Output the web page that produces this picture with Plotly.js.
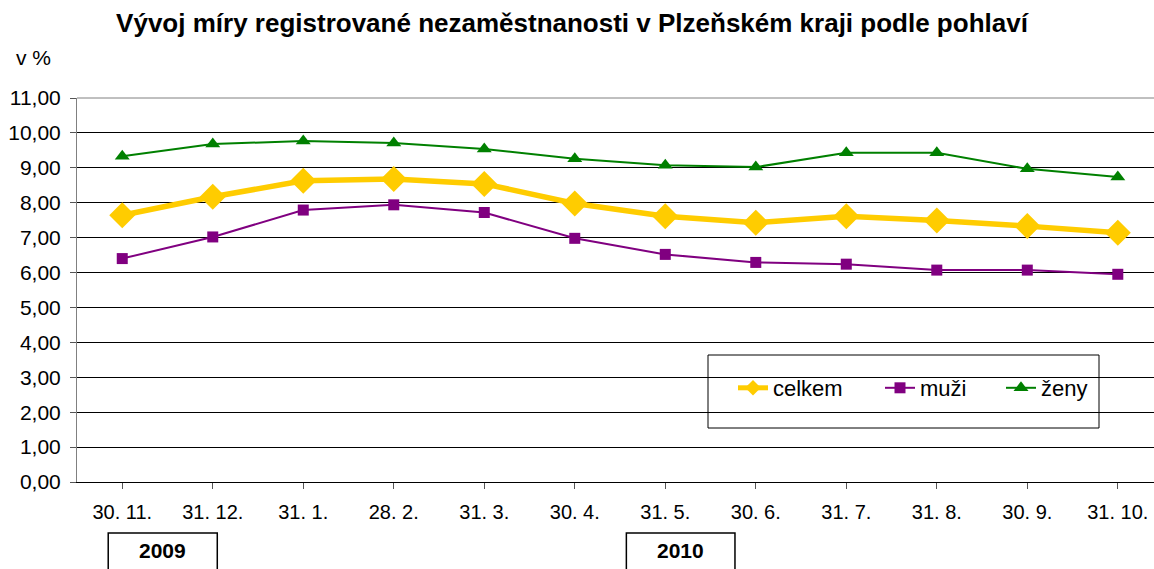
<!DOCTYPE html>
<html><head><meta charset="utf-8">
<script src="https://cdn.plot.ly/plotly-3.0.1.min.js"></script>
<style>body{margin:0;background:#fff}#c{width:1154px;height:569px}</style>
</head><body><div id="c"></div>
<script>
const categories = ["30. 11.","31. 12.","31. 1.","28. 2.","31. 3.","30. 4.","31. 5.","30. 6.","31. 7.","31. 8.","30. 9.","31. 10."];
const celkem = [7.64, 8.17, 8.63, 8.68, 8.54, 7.98, 7.61, 7.43, 7.61, 7.49, 7.33, 7.14];
const muzi   = [6.40, 7.02, 7.79, 7.94, 7.72, 6.98, 6.52, 6.29, 6.24, 6.07, 6.07, 5.95];
const zeny   = [9.33, 9.68, 9.77, 9.71, 9.54, 9.26, 9.07, 9.02, 9.43, 9.43, 8.97, 8.74];
const yTickVals = [0,1,2,3,4,5,6,7,8,9,10,11];
const yTickText = ["0,00","1,00","2,00","3,00","4,00","5,00","6,00","7,00","8,00","9,00","10,00","11,00"];
const seriesNames = ["celkem","muži","ženy"];
const years = ["2009","2010"];

const xIdx = categories.map((_, i) => i);
const F = "Liberation Sans, Arial, sans-serif";

const traces = [
  {x: xIdx, y: celkem, name: seriesNames[0], mode: "lines+markers", legend: "legend",
   line: {color: "#FFCC00", width: 5.5}, marker: {symbol: "diamond", size: 20, color: "#FFCC00"}},
  {x: xIdx, y: muzi, name: seriesNames[1], mode: "lines+markers", legend: "legend2",
   line: {color: "#800080", width: 2}, marker: {symbol: "square", size: 11, color: "#800080"}},
  {x: xIdx, y: zeny, name: seriesNames[2], mode: "lines+markers", legend: "legend3",
   line: {color: "#008000", width: 2}, marker: {symbol: "triangle-up", size: 13, color: "#008000"}}
];

const W = 1154 - 77, H = 384;
const px = v => (v - 77) / W;
const py = v => (482 - v) / H;
const legBase = {orientation: "h", yanchor: "middle", xanchor: "left", bgcolor: "rgba(0,0,0,0)",
  borderwidth: 0, font: {family: F, size: 22, color: "#000"}, itemwidth: 30};

const layout = {
  width: 1154, height: 569,
  margin: {l: 77, r: 0, t: 98, b: 87},
  paper_bgcolor: "#fff", plot_bgcolor: "#fff",
  font: {family: F, color: "#000"},
  title: {text: "<b>Vývoj míry registrované nezaměstnanosti v Plzeňském kraji podle pohlaví</b>",
    font: {family: F, size: 26, color: "#000"}, x: px(572), xanchor: "center", y: 1 - 23/569, yanchor: "middle", xref: "paper"},
  xaxis: {range: [-0.5, 11.4], tickvals: xIdx, ticktext: categories, tickson: "boundaries",
    ticks: "outside", ticklen: 6, tickcolor: "#555", showgrid: false, zeroline: false,
    showline: true, linecolor: "#000", linewidth: 1, tickfont: {family: F, size: 20, color: "#000"},
    ticklabelstandoff: 6, fixedrange: true},
  yaxis: {range: [0, 11], tickvals: yTickVals, ticktext: yTickText, ticks: "outside", ticklen: 6,
    tickcolor: "#555", showgrid: true, gridcolor: "#000", gridwidth: 1, zeroline: false,
    showline: true, linecolor: "#808080", linewidth: 1, tickfont: {family: F, size: 21, color: "#000"},
    ticklabelstandoff: 5, fixedrange: true},
  legend: Object.assign({}, legBase, {x: px(733), y: py(388), itemsizing: "constant"}),
  legend2: Object.assign({}, legBase, {x: px(880), y: py(388)}),
  legend3: Object.assign({}, legBase, {x: px(1001), y: py(388)}),
  shapes: [
    {type: "rect", xref: "paper", yref: "paper", x0: px(708), x1: px(1099), y0: py(428), y1: py(355),
     line: {color: "#000", width: 1}, fillcolor: "#fff", layer: "below"},
    {type: "line", xref: "paper", yref: "paper", x0: 0, x1: 1, y0: 1, y1: 1,
     line: {color: "#808080", width: 1}},
    {type: "rect", xref: "x", yref: "paper", x0: -0.155, x1: 1.05, y0: py(533), y1: py(575),
     line: {color: "#000", width: 1.5}},
    {type: "rect", xref: "x", yref: "paper", x0: 5.57, x1: 6.77, y0: py(533), y1: py(575),
     line: {color: "#000", width: 1.5}}
  ],
  annotations: [
    {text: "v %", xref: "paper", yref: "paper", x: px(33), y: py(57), xanchor: "center", yanchor: "middle",
     showarrow: false, font: {family: F, size: 21, color: "#000"}},
    {text: "<b>" + years[0] + "</b>", xref: "x", yref: "paper", x: 0.45, y: py(550), xanchor: "center", yanchor: "middle",
     showarrow: false, font: {family: F, size: 21, color: "#000"}},
    {text: "<b>" + years[1] + "</b>", xref: "x", yref: "paper", x: 6.17, y: py(550), xanchor: "center", yanchor: "middle",
     showarrow: false, font: {family: F, size: 21, color: "#000"}}
  ],
  showlegend: true
};

Plotly.newPlot("c", traces, layout, {displayModeBar: false, staticPlot: true});
</script></body></html>
